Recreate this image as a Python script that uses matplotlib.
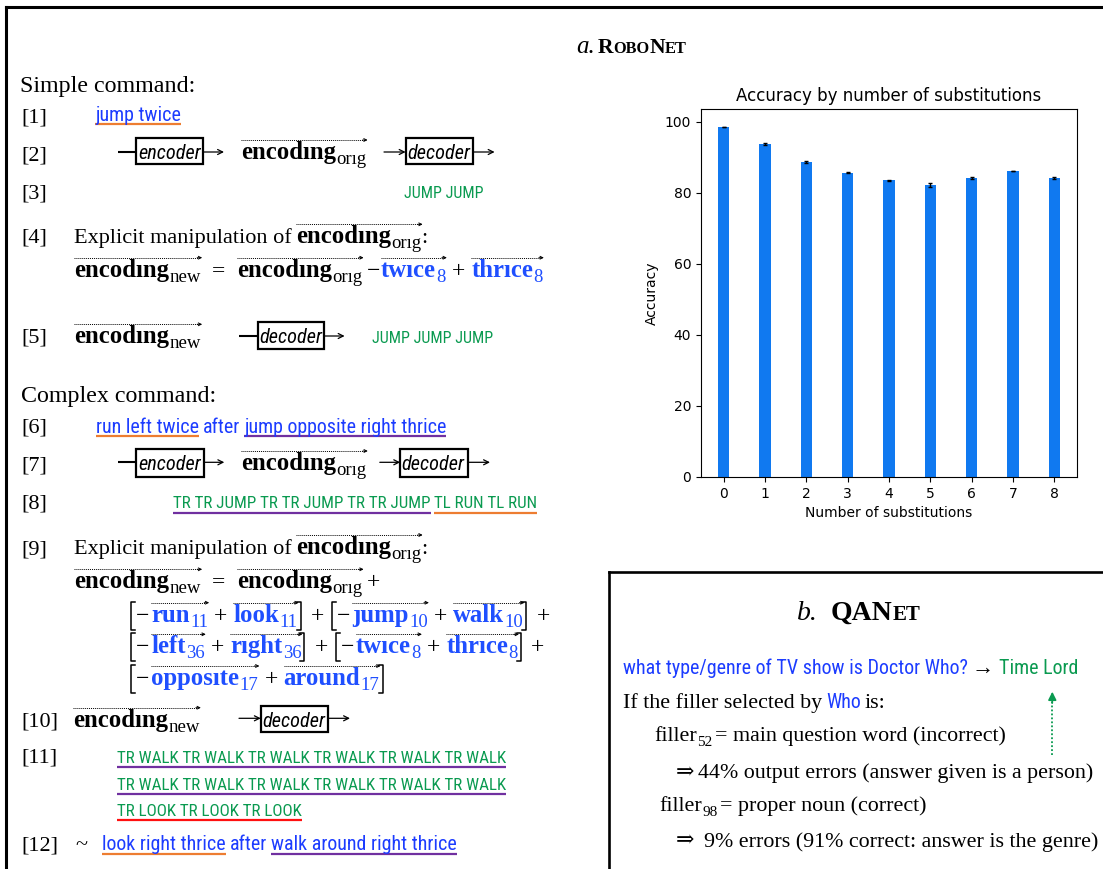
import matplotlib
matplotlib.use('Agg')
import matplotlib.pyplot as plt
from matplotlib import font_manager
from matplotlib.patches import Rectangle

# bar chart values
n_subs = [0, 1, 2, 3, 4, 5, 6, 7, 8]
accuracy = [98.6, 93.7, 88.7, 85.7, 83.5, 82.3, 84.2, 86.2, 84.2]
acc_err = [0.1, 0.3, 0.2, 0.1, 0.1, 0.5, 0.2, 0.1, 0.2]
y_ticks = [0, 20, 40, 60, 80, 100]

BLUE = '#1c3cff'
BBLUE = '#1f4fff'
GREEN = '#0a9a50'
ORANGE = '#ed7d31'
PURPLE = '#7030a0'
RED = '#ff1010'
BAR = '#1079f0'

# condensed sans face, with a size factor so widths come out like the original
names = {f.name for f in font_manager.fontManager.ttflist}
SANS = ['Liberation Sans', 'DejaVu Sans']
NK = 0.85
for cand, k in [('Liberation Sans Narrow', 1.0), ('Arial Narrow', 1.0),
                ('Roboto Condensed', 0.91)]:
    if cand in names:
        SANS = [cand, 'DejaVu Sans']
        NK = k
        break
SERIF = ['Liberation Serif', 'DejaVu Serif']

fig = plt.figure(figsize=(11.03, 8.69), dpi=100)
ov = fig.add_axes([0, 0, 1, 1])
ov.set_xlim(0, 1103)
ov.set_ylim(869, 0)
ov.axis('off')
R = fig.canvas.get_renderer()


def put(x, y, s, size, fam=SERIF, **kw):
    t = ov.text(x, y, s, fontsize=size, family=fam, va='baseline', ha='left', **kw)
    return x + t.get_window_extent(R).width


def sans(x, y, s, size, color):
    return put(x, y, s, size * NK, SANS, color=color)


def uline(x0, x1, y, color):
    ov.plot([x0, x1], [y, y], color=color, lw=1.6, solid_capstyle='butt')


def over_arrow(x0, x1, y):
    ov.plot([x0, x1 - 3], [y, y], color='black', lw=0.7, ls=(0, (1, 1)))
    ov.annotate('', xy=(x1, y), xytext=(x1 - 5, y),
                arrowprops=dict(arrowstyle='->', color='black', lw=0.7,
                                shrinkA=0, shrinkB=0, mutation_scale=5))


def vec(x, y, word, sub, color='black', size=17.8, subsize=13.5):
    x0 = x
    x = put(x, y, word, size, weight='bold', color=color)
    x = put(x + 0.5, y + 5, sub, subsize, color=color)
    over_arrow(x0, x + 1, y - 19)
    return x


def harrow(x0, x1, y):
    ov.annotate('', xy=(x1, y), xytext=(x0, y),
                arrowprops=dict(arrowstyle='->', color='black', lw=0.9,
                                shrinkA=0, shrinkB=0, mutation_scale=9))


def dash(x0, x1, y):
    ov.plot([x0, x1], [y, y], color='black', lw=1.5, solid_capstyle='butt')


def boxed(x0, x1, ytop, ybot, base, label):
    ov.add_patch(Rectangle((x0, ytop), x1 - x0, ybot - ytop, fill=False,
                           ec='black', lw=1.6))
    put(x0 + 1.5, base, label, 16 * NK, SANS, style='italic')


def bracket(x, y, left=True):
    d = 4 if left else -4
    ov.plot([x + d, x, x, x + d], [y - 20, y - 20, y + 8, y + 8],
            color='black', lw=1.1)


def op(x, y, s, gap=6):
    return put(x + gap, y, s, 17) + gap


# ---- outer frame and title ----
ov.plot([6, 1103], [7, 7], color='black', lw=2.2, solid_capstyle='projecting')
ov.plot([6, 6], [7, 869], color='black', lw=2.2, solid_capstyle='projecting')

put(576, 52.7, 'a.', 18, style='italic')
x = put(597.7, 52.7, 'R', 15.5, weight='bold')
x = put(x, 52.7, 'OBO', 11.8, weight='bold')
x = put(x, 52.7, 'N', 15.5, weight='bold')
put(x, 52.7, 'ET', 11.8, weight='bold')

# ---- left column: simple command ----
labels = ['[1]', '[2]', '[3]', '[4]', '[5]', '[6]', '[7]', '[8]', '[9]', '[10]', '[11]', '[12]']
label_y = [122, 160, 198, 243, 343, 433, 470, 508, 554, 727, 763, 850]
for lab, yb in zip(labels, label_y):
    put(21, yb, lab, 16)

put(20.5, 92, 'Simple command:', 17.3)
x1 = sans(95, 121, 'jump twice', 15.8, BLUE)
uline(95, x1, 124, ORANGE)

dash(117.7, 136.4, 152)
boxed(136.4, 203.2, 137.7, 164.3, 159, 'encoder')
harrow(203.2, 224, 152)
vec(241, 159, 'encodıng', 'orıg')
harrow(384, 405.6, 152)
boxed(405.6, 472.7, 137.7, 164.3, 159, 'decoder')
harrow(472.7, 494.6, 152)

sans(404, 198.3, 'JUMP JUMP', 12.8, GREEN)

x = put(74.3, 243.3, 'Explicit manipulation of', 16)
x = vec(x + 4, 243.3, 'encodıng', 'orıg')
put(x, 243.3, ':', 16)

yy = 276.7
vec(74.3, yy, 'encodıng', 'new')
put(212, yy, '=', 17)
x = vec(237, yy, 'encodıng', 'orıg')
x = put(x + 4, yy, '−', 17)
x = vec(x + 1, yy, 'twıce', '8', BBLUE)
x = op(x, yy, '+')
vec(x, yy, 'thrıce', '8', BBLUE)

vec(74.3, 343.3, 'encodıng', 'new')
dash(238.7, 257.7, 336)
boxed(257.7, 323.8, 321.7, 349.3, 343, 'decoder')
harrow(323.8, 344.6, 336)
sans(371.5, 342.7, 'JUMP JUMP JUMP', 12.8, GREEN)

# ---- left column: complex command ----
put(20.8, 401.7, 'Complex command:', 17.3)

x = sans(95.8, 433, 'run left twice', 15.8, BLUE)
uline(95.8, x, 436, ORANGE)
x = sans(x + 4, 433, 'after', 15.8, BLUE)
x0 = x + 4
x = sans(x0, 433, 'jump opposite right thrice', 15.8, BLUE)
uline(x0, x, 436, PURPLE)

dash(117.7, 136.4, 462.3)
boxed(136.4, 203.9, 449.3, 476.7, 470, 'encoder')
harrow(203.9, 224.3, 462.3)
vec(241.2, 470, 'encodıng', 'orıg')
harrow(379.8, 400.2, 462.3)
boxed(400.2, 467.7, 449.3, 476.7, 470, 'decoder')
harrow(467.7, 490, 462.3)

x = sans(173.4, 508.3, 'TR TR JUMP TR TR JUMP TR TR JUMP', 13.5, GREEN)
uline(173.4, x, 512.5, PURPLE)
x0 = x + 3
x = sans(x0, 508.3, 'TL RUN TL RUN', 13.5, GREEN)
uline(x0, x, 512.5, ORANGE)

x = put(74.3, 554, 'Explicit manipulation of', 16)
x = vec(x + 4, 554, 'encodıng', 'orıg')
put(x, 554, ':', 16)

yy = 588.3
vec(74.3, yy, 'encodıng', 'new')
put(212, yy, '=', 17)
x = vec(237, yy, 'encodıng', 'orıg')
put(x + 4, yy, '+', 17)

rows = [
    [('run', '11'), ('look', '11'), ('ȷump', '10'), ('walk', '10')],
    [('left', '36'), ('rıght', '36'), ('twıce', '8'), ('thrıce', '8')],
    [('opposıte', '17'), ('around', '17')],
]
row_y = [621.7, 653.3, 685]
for pairs, yy in zip(rows, row_y):
    x = 130.8
    for k in range(0, len(pairs), 2):
        bracket(x, yy)
        x = put(x + 5, yy, '−', 17)
        x = vec(x + 2, yy, pairs[k][0], pairs[k][1], BBLUE)
        x = op(x, yy, '+')
        x = vec(x, yy, pairs[k + 1][0], pairs[k + 1][1], BBLUE)
        bracket(x + 3, yy, left=False)
        x = x + 5
        if len(pairs) == 4:
            x = op(x, yy, '+', gap=8)

vec(73, 726.7, 'encodıng', 'new')
harrow(239, 260.8, 718.3)
boxed(260.8, 328, 706, 732.3, 726.7, 'decoder')
harrow(328, 350, 718.3)

walk_line = 'TR WALK TR WALK TR WALK TR WALK TR WALK TR WALK'
for yy in [763.3, 790]:
    x = sans(117.3, yy, walk_line, 13.5, GREEN)
    uline(117.3, x, yy + 3.5, PURPLE)
x = sans(117.3, 816, 'TR LOOK TR LOOK TR LOOK', 13.5, GREEN)
uline(117.3, x, 819.5, RED)

put(75, 850, '~', 16)
x = sans(102, 850, 'look right thrice', 15.8, BLUE)
uline(102, x, 854, ORANGE)
x = sans(x + 4, 850, 'after', 15.8, BLUE)
x0 = x + 4
x = sans(x0, 850, 'walk around right thrice', 15.8, BLUE)
uline(x0, x, 854, PURPLE)

# ---- QANet box ----
ov.plot([609, 1103], [571.7, 571.7], color='black', lw=1.9, solid_capstyle='projecting')
ov.plot([609, 609], [571.7, 869], color='black', lw=1.9, solid_capstyle='projecting')

put(796.7, 620, 'b.', 20, style='italic')
x = put(831, 620, 'QAN', 20, weight='bold')
put(x, 620, 'ET', 15, weight='bold')

x = sans(622.7, 674.3, 'what type/genre of TV show is Doctor Who?', 15.8, BLUE)
x = put(x + 4, 674.3, '→', 16)
sans(x + 5, 674.3, 'Time Lord', 15.8, GREEN)

x = put(622.7, 707.7, 'If the filler selected by', 15.8)
x = sans(x + 4, 707.7, 'Who', 15.8, BLUE)
put(x + 4, 707.7, 'is:', 15.8)

x = put(654.3, 741, 'filler', 15.8)
x = put(x, 746, '52', 11)
put(x + 3, 741, '= main question word (incorrect)', 15.8)

x = put(676, 778.3, '⇒', 15.8)
put(x + 4, 778.3, '44% output errors (answer given is a person)', 15.8)

x = put(659.3, 810.7, 'filler', 15.8)
x = put(x, 815.7, '98', 11)
put(x + 3, 810.7, '= proper noun (correct)', 15.8)

x = put(676, 846.7, '⇒', 15.8)
put(x + 10, 846.7, '9% errors (91% correct: answer is the genre)', 15.8)

ov.plot([1052.3, 1052.3], [755, 700], color=GREEN, lw=1.3, ls=(0, (1, 1.2)))
ov.annotate('', xy=(1052.3, 691.7), xytext=(1052.3, 703),
            arrowprops=dict(arrowstyle='-|>', color=GREEN, lw=1.2,
                            shrinkA=0, shrinkB=0, mutation_scale=12))

# ---- bar chart ----
ax = fig.add_axes([701 / 1103, 392 / 869, 376 / 1103, 368 / 869])
ax.bar(n_subs, accuracy, width=0.27, color=BAR, yerr=acc_err,
       ecolor='black', capsize=1.5, error_kw=dict(lw=1))
ax.set_xticks(n_subs)
ax.set_yticks(y_ticks)
ax.set_title('Accuracy by number of substitutions', fontsize=12)
ax.set_xlabel('Number of substitutions', fontsize=10)
ax.set_ylabel('Accuracy', fontsize=10)
ax.tick_params(labelsize=10)

fig.savefig('out.png', dpi=100)
